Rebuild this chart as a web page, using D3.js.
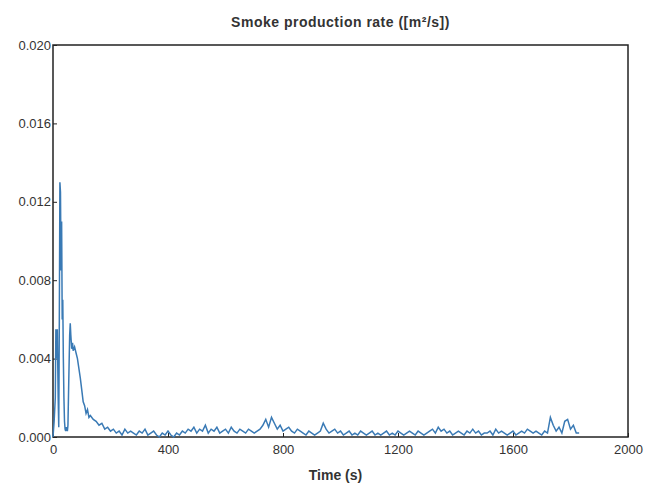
<!DOCTYPE html>
<html><head><meta charset="utf-8">
<script src="https://cdn.jsdelivr.net/npm/d3@7"></script>
<style>body{margin:0;background:#fff}</style>
</head><body><div id="chart"></div>
<script>
// Data (time in s, smoke production rate in m²/s)
const times = [0,4,8,10,12,15,18,20,22,24,26,28,30,32,34,36,38,40,42,44,46,48,50,52,55,58,60,62,65,68,70,75,80,85,90,95,100,105,110,115,120,125,130,140,150,160,170,180,190,200];
const values = [0,0.0008,0.002,0.0055,0.004,0.0055,0.002,0.0005,0.006,0.013,0.0125,0.0085,0.011,0.006,0.007,0.004,0.002,0.0008,0.0004,0.0003,0.0005,0.0004,0.0003,0.0006,0.003,0.0052,0.0058,0.0052,0.0045,0.0048,0.0044,0.0046,0.0043,0.004,0.0035,0.003,0.0024,0.0018,0.0016,0.0012,0.0014,0.001,0.0011,0.0009,0.0008,0.0006,0.0007,0.0004,0.0005,0.0003];
// Tail, every 10 s from 210 s onward
const tailStart = 210, tailStep = 10;
const tail = [0.0004,0.0002,0.0003,0.0001,0.0004,0.0002,0.0003,0.0002,0.0001,0.0003,
  0.0002,0.0004,0.0001,0.0002,0.0003,0.0001,0.0,0.0002,0.0001,0.0003,
  0.0001,0.0,0.0002,0.0001,0.0003,0.0002,0.0004,0.0003,0.0005,0.0002,
  0.0004,0.0003,0.0006,0.0002,0.0004,0.0003,0.0005,0.0002,0.0003,0.0004,
  0.0002,0.0005,0.0003,0.0002,0.0004,0.0003,0.0002,0.0004,0.0003,0.0002,
  0.0003,0.0004,0.0006,0.0009,0.0005,0.001,0.0007,0.0004,0.0006,0.0003,
  0.0004,0.0005,0.0003,0.0002,0.0004,0.0003,0.0002,0.0001,0.0003,0.0002,
  0.0001,0.0002,0.0003,0.0007,0.0004,0.0002,0.0003,0.0004,0.0002,0.0003,
  0.0001,0.0002,0.0003,0.0001,0.0002,0.0001,0.0003,0.0002,0.0001,0.0002,
  0.0003,0.0001,0.0002,0.0001,0.0002,0.0003,0.0001,0.0002,0.0001,0.0003,
  0.0002,0.0001,0.0002,0.0003,0.0002,0.0001,0.0003,0.0002,0.0001,0.0002,
  0.0003,0.0004,0.0002,0.0005,0.0003,0.0004,0.0002,0.0003,0.0001,0.0002,
  0.0003,0.0002,0.0001,0.0003,0.0002,0.0004,0.0002,0.0003,0.0001,0.0002,
  0.0002,0.0003,0.0001,0.0004,0.0002,0.0003,0.0002,0.0001,0.0002,0.0003,
  0.0001,0.0002,0.0003,0.0002,0.0004,0.0003,0.0002,0.0003,0.0002,0.0001,
  0.0003,0.0002,0.001,0.0006,0.0003,0.0005,0.0002,
  0.0008,0.0009,0.0004,0.0006,0.0002,0.0002];
const xTicks = [0,400,800,1200,1600,2000];
const yTicks = [0,0.004,0.008,0.012,0.016,0.020];

const data = times.map((t,i)=>[t,values[i]])
  .concat(tail.map((v,i)=>[tailStart+i*tailStep,v]));

const margin = {top: 45, right: 17, bottom: 51, left: 53},
    width = 645 - margin.left - margin.right,
    height = 488 - margin.top - margin.bottom;

const svg = d3.select("#chart").append("svg")
    .attr("width", 645).attr("height", 488)
    .style("font-family", "Arial, 'Liberation Sans', sans-serif");
const g = svg.append("g").attr("transform", `translate(${margin.left},${margin.top})`);

const x = d3.scaleLinear().domain([0,2000]).range([0,width]);
const y = d3.scaleLinear().domain([0,0.02]).range([height,0]);

// Title
svg.append("text").attr("x", margin.left + width/2).attr("y", 27)
  .attr("text-anchor","middle").style("font-size","14px").style("font-weight","bold")
  .style("fill","#333").style("letter-spacing","0.5px")
  .text("Smoke production rate ([m²/s])");

// Frame
g.append("rect").attr("width", width).attr("height", height)
  .attr("fill","none").attr("stroke","#222").attr("stroke-width",1.5);

// Axes
g.append("g").attr("transform", `translate(0,${height})`)
  .call(d3.axisBottom(x).tickValues(xTicks).tickSize(-4).tickPadding(8).tickFormat(d3.format("d")))
  .call(a=>a.select(".domain").remove())
  .call(a=>a.selectAll("text").style("font-size","13px").style("fill","#333"))
  .call(a=>a.selectAll("line").attr("stroke","#222"));
g.append("g")
  .call(d3.axisLeft(y).tickValues(yTicks).tickSize(-4).tickPadding(4).tickFormat(d3.format(".3f")))
  .call(a=>a.select(".domain").remove())
  .call(a=>a.selectAll("text").style("font-size","13px").style("fill","#333").attr("x",-2))
  .call(a=>a.selectAll("line").attr("stroke","#222"));

// X label
svg.append("text").attr("x", margin.left + width/2 - 5).attr("y", 480)
  .attr("text-anchor","middle").style("font-size","14px").style("font-weight","bold")
  .style("fill","#333").text("Time (s)");

// Line
g.append("path").datum(data)
  .attr("fill","none").attr("stroke","#3a7ab5").attr("stroke-width",1.5)
  .attr("d", d3.line().x(d=>x(d[0])).y(d=>y(d[1])));
</script></body></html>
